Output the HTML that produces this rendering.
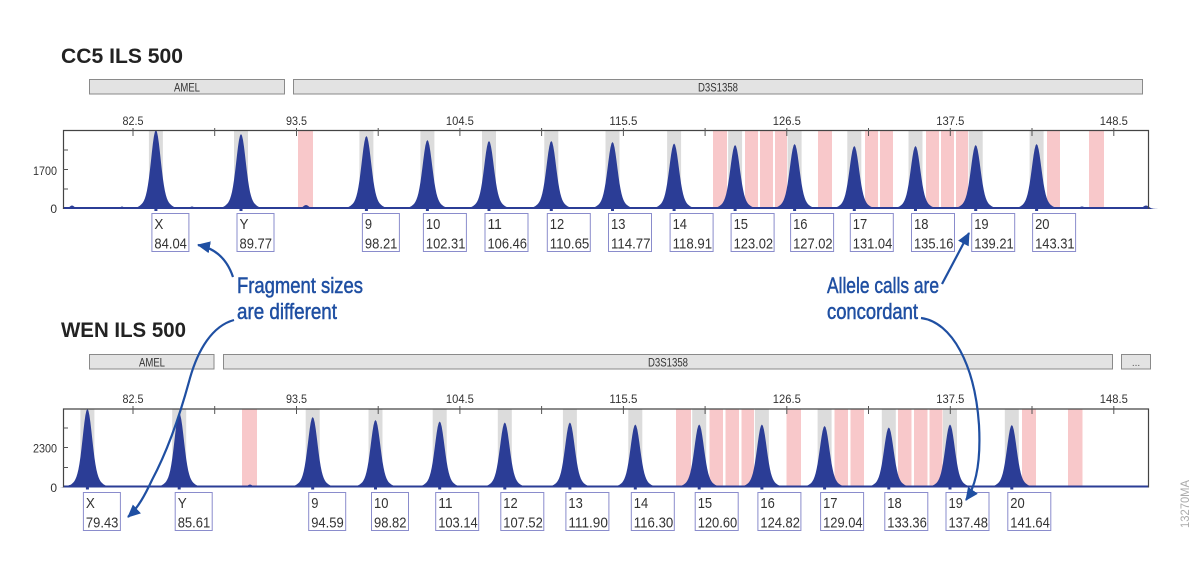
<!DOCTYPE html>
<html>
<head>
<meta charset="utf-8">
<style>
html,body{margin:0;padding:0;background:#fff;}
svg{display:block;}
text{font-family:"Liberation Sans",Arial,sans-serif;}
</style>
</head>
<body>
<svg width="1200" height="569" viewBox="0 0 1200 569" xmlns="http://www.w3.org/2000/svg" xmlns:xlink="http://www.w3.org/1999/xlink">
<defs>
<path id="pk" d="M-26,0 L-23,-0.8 L-20,-1.7 L-18,-2.7 L-16,-4.2 L-14,-6.6 L-13,-8.2 L-12,-10.5 L-11,-13.5 L-10,-17.6 L-9,-22.9 L-8,-30 L-7,-38.6 L-6,-48.9 L-5,-60.2 L-4,-72 L-3,-83 L-2,-92 L-1,-97.9 L0,-100 L1,-97.9 L2,-92 L3,-83 L4,-72 L5,-60.2 L6,-48.9 L7,-38.6 L8,-30 L9,-22.9 L10,-17.6 L11,-13.5 L12,-10.5 L13,-8.2 L14,-6.6 L16,-4.2 L18,-2.7 L20,-1.7 L23,-0.8 L26,0 Z"/>
<marker id="ah" markerWidth="14" markerHeight="12" refX="12" refY="6" orient="auto" markerUnits="userSpaceOnUse">
<path d="M0,0 L13,6 L0,12 Z" fill="#1f4fa2"/>
</marker>
</defs>

<!-- ===================== TOP PANEL ===================== -->
<text x="61" y="63" font-size="21" font-weight="bold" fill="#222" textLength="122" lengthAdjust="spacingAndGlyphs">CC5 ILS 500</text>

<rect x="89.5" y="79.5" width="195" height="14.5" fill="#e3e3e3" stroke="#8a8a8a" stroke-width="1"/>
<text x="187" y="91.5" font-size="12" fill="#333" text-anchor="middle" textLength="26" lengthAdjust="spacingAndGlyphs">AMEL</text>
<rect x="293.5" y="79.5" width="849" height="14.5" fill="#e3e3e3" stroke="#8a8a8a" stroke-width="1"/>
<text x="718" y="91.5" font-size="12" fill="#333" text-anchor="middle" textLength="40" lengthAdjust="spacingAndGlyphs">D3S1358</text>

<!-- x tick labels -->
<g font-size="12" fill="#333" text-anchor="middle">
<text x="133" y="125" textLength="21" lengthAdjust="spacingAndGlyphs">82.5</text>
<text x="296.5" y="125" textLength="21" lengthAdjust="spacingAndGlyphs">93.5</text>
<text x="459.9" y="125" textLength="28" lengthAdjust="spacingAndGlyphs">104.5</text>
<text x="623.4" y="125" textLength="28" lengthAdjust="spacingAndGlyphs">115.5</text>
<text x="786.8" y="125" textLength="28" lengthAdjust="spacingAndGlyphs">126.5</text>
<text x="950.3" y="125" textLength="28" lengthAdjust="spacingAndGlyphs">137.5</text>
<text x="1113.8" y="125" textLength="28" lengthAdjust="spacingAndGlyphs">148.5</text>
</g>

<!-- bins gray -->
<g fill="#dcdcdc">
<rect x="148.9" y="131" width="14" height="78"/>
<rect x="234" y="131" width="14" height="78"/>
<rect x="359.4" y="131" width="14" height="78"/>
<rect x="420.4" y="131" width="14" height="78"/>
<rect x="482" y="131" width="14" height="78"/>
<rect x="544.3" y="131" width="14" height="78"/>
<rect x="605.5" y="131" width="14" height="78"/>
<rect x="667.1" y="131" width="14" height="78"/>
<rect x="728.1" y="131" width="14" height="78"/>
<rect x="787.6" y="131" width="14" height="78"/>
<rect x="847.3" y="131" width="14" height="78"/>
<rect x="908.5" y="131" width="14" height="78"/>
<rect x="968.7" y="131" width="14" height="78"/>
<rect x="1029.6" y="131" width="14" height="78"/>
</g>
<!-- bins pink -->
<g fill="#f8c8ca">
<rect x="298" y="131" width="15" height="78"/>
<rect x="713" y="131" width="14" height="78"/>
<rect x="745" y="131" width="13" height="78"/>
<rect x="760" y="131" width="13" height="78"/>
<rect x="775" y="131" width="12" height="78"/>
<rect x="818" y="131" width="14" height="78"/>
<rect x="865" y="131" width="13" height="78"/>
<rect x="880" y="131" width="13" height="78"/>
<rect x="926" y="131" width="13" height="78"/>
<rect x="941" y="131" width="13" height="78"/>
<rect x="956" y="131" width="12" height="78"/>
<rect x="1047" y="131" width="13" height="78"/>
<rect x="1089" y="131" width="15" height="78"/>
</g>

<!-- baseline trace -->
<line x1="63" y1="208" x2="1149" y2="208" stroke="#2b3d96" stroke-width="2"/>
<g fill="#2b3d96">
<use href="#pk" xlink:href="#pk" transform="translate(72,209) scale(0.5,0.035)"/>
<use href="#pk" xlink:href="#pk" transform="translate(122,209) scale(0.4,0.025)"/>
<use href="#pk" xlink:href="#pk" transform="translate(192,209) scale(0.5,0.025)"/>
<use href="#pk" xlink:href="#pk" transform="translate(306,209) scale(0.6,0.04)"/>
<use href="#pk" xlink:href="#pk" transform="translate(1082,209) scale(0.6,0.025)"/>
<use href="#pk" xlink:href="#pk" transform="translate(1146,209) scale(0.6,0.035)"/>
<!-- peaks -->
<use href="#pk" xlink:href="#pk" transform="translate(155.9,209) scale(1,0.79)"/>
<use href="#pk" xlink:href="#pk" transform="translate(241,209) scale(1,0.75)"/>
<use href="#pk" xlink:href="#pk" transform="translate(366.4,209) scale(1,0.73)"/>
<use href="#pk" xlink:href="#pk" transform="translate(427.4,209) scale(1,0.69)"/>
<use href="#pk" xlink:href="#pk" transform="translate(489,209) scale(1,0.68)"/>
<use href="#pk" xlink:href="#pk" transform="translate(551.3,209) scale(1,0.68)"/>
<use href="#pk" xlink:href="#pk" transform="translate(612.5,209) scale(1,0.67)"/>
<use href="#pk" xlink:href="#pk" transform="translate(674.1,209) scale(1,0.655)"/>
<use href="#pk" xlink:href="#pk" transform="translate(735.1,209) scale(1,0.64)"/>
<use href="#pk" xlink:href="#pk" transform="translate(794.6,209) scale(1,0.65)"/>
<use href="#pk" xlink:href="#pk" transform="translate(854.3,209) scale(1,0.63)"/>
<use href="#pk" xlink:href="#pk" transform="translate(915.5,209) scale(1,0.63)"/>
<use href="#pk" xlink:href="#pk" transform="translate(975.7,209) scale(1,0.64)"/>
<use href="#pk" xlink:href="#pk" transform="translate(1036.6,209) scale(1,0.65)"/>
</g>

<!-- plot frame -->
<path d="M63.5,209 L63.5,130.5 L1148.5,130.5 L1148.5,209" fill="none" stroke="#444" stroke-width="1.2"/>
<g stroke="#555" stroke-width="1">
<line x1="133" y1="128" x2="133" y2="136"/>
<line x1="214.7" y1="128" x2="214.7" y2="136"/>
<line x1="296.5" y1="128" x2="296.5" y2="136"/>
<line x1="378.2" y1="128" x2="378.2" y2="136"/>
<line x1="459.9" y1="128" x2="459.9" y2="136"/>
<line x1="541.6" y1="128" x2="541.6" y2="136"/>
<line x1="623.4" y1="128" x2="623.4" y2="136"/>
<line x1="705.1" y1="128" x2="705.1" y2="136"/>
<line x1="786.8" y1="128" x2="786.8" y2="136"/>
<line x1="868.5" y1="128" x2="868.5" y2="136"/>
<line x1="950.3" y1="128" x2="950.3" y2="136"/>
<line x1="1032" y1="128" x2="1032" y2="136"/>
<line x1="1113.8" y1="128" x2="1113.8" y2="136"/>
<line x1="63" y1="189" x2="68" y2="189"/>
<line x1="63" y1="169.5" x2="68" y2="169.5"/>
<line x1="63" y1="150" x2="68" y2="150"/>
</g>
<g font-size="12" fill="#333" text-anchor="end">
<text x="57" y="175" textLength="24" lengthAdjust="spacingAndGlyphs">1700</text>
<text x="57" y="213">0</text>
</g>

<!-- labels top -->
<g fill="none" stroke="#8a8ccc" stroke-width="1">
<rect x="151.9" y="213.5" width="37" height="38"/>
<rect x="237" y="213.5" width="37" height="38"/>
<rect x="362.4" y="213.5" width="37" height="38"/>
<rect x="423.4" y="213.5" width="43" height="38"/>
<rect x="485" y="213.5" width="43" height="38"/>
<rect x="547.3" y="213.5" width="43" height="38"/>
<rect x="608.5" y="213.5" width="43" height="38"/>
<rect x="670.1" y="213.5" width="43" height="38"/>
<rect x="731.1" y="213.5" width="43" height="38"/>
<rect x="790.6" y="213.5" width="43" height="38"/>
<rect x="850.3" y="213.5" width="43" height="38"/>
<rect x="911.5" y="213.5" width="43" height="38"/>
<rect x="971.7" y="213.5" width="43" height="38"/>
<rect x="1032.6" y="213.5" width="43" height="38"/>
</g>
<g fill="#2b3d96">
<rect x="154.4" y="208" width="3" height="3"/>
<rect x="239.5" y="208" width="3" height="3"/>
<rect x="364.9" y="208" width="3" height="3"/>
<rect x="425.9" y="208" width="3" height="3"/>
<rect x="487.5" y="208" width="3" height="3"/>
<rect x="549.8" y="208" width="3" height="3"/>
<rect x="611" y="208" width="3" height="3"/>
<rect x="672.6" y="208" width="3" height="3"/>
<rect x="733.6" y="208" width="3" height="3"/>
<rect x="793.1" y="208" width="3" height="3"/>
<rect x="852.8" y="208" width="3" height="3"/>
<rect x="914" y="208" width="3" height="3"/>
<rect x="974.2" y="208" width="3" height="3"/>
<rect x="1035.1" y="208" width="3" height="3"/>
</g>
<g font-size="15" fill="#333">
<text x="154.4" y="229" textLength="9" lengthAdjust="spacingAndGlyphs">X</text>
<text x="154.4" y="248.5" textLength="32.5" lengthAdjust="spacingAndGlyphs">84.04</text>
<text x="239.5" y="229" textLength="9" lengthAdjust="spacingAndGlyphs">Y</text>
<text x="239.5" y="248.5" textLength="32.5" lengthAdjust="spacingAndGlyphs">89.77</text>
<text x="364.9" y="229" textLength="7.2" lengthAdjust="spacingAndGlyphs">9</text>
<text x="364.9" y="248.5" textLength="32.5" lengthAdjust="spacingAndGlyphs">98.21</text>
<text x="425.9" y="229" textLength="14.4" lengthAdjust="spacingAndGlyphs">10</text>
<text x="425.9" y="248.5" textLength="39.5" lengthAdjust="spacingAndGlyphs">102.31</text>
<text x="487.5" y="229" textLength="14.4" lengthAdjust="spacingAndGlyphs">11</text>
<text x="487.5" y="248.5" textLength="39.5" lengthAdjust="spacingAndGlyphs">106.46</text>
<text x="549.8" y="229" textLength="14.4" lengthAdjust="spacingAndGlyphs">12</text>
<text x="549.8" y="248.5" textLength="39.5" lengthAdjust="spacingAndGlyphs">110.65</text>
<text x="611" y="229" textLength="14.4" lengthAdjust="spacingAndGlyphs">13</text>
<text x="611" y="248.5" textLength="39.5" lengthAdjust="spacingAndGlyphs">114.77</text>
<text x="672.6" y="229" textLength="14.4" lengthAdjust="spacingAndGlyphs">14</text>
<text x="672.6" y="248.5" textLength="39.5" lengthAdjust="spacingAndGlyphs">118.91</text>
<text x="733.6" y="229" textLength="14.4" lengthAdjust="spacingAndGlyphs">15</text>
<text x="733.6" y="248.5" textLength="39.5" lengthAdjust="spacingAndGlyphs">123.02</text>
<text x="793.1" y="229" textLength="14.4" lengthAdjust="spacingAndGlyphs">16</text>
<text x="793.1" y="248.5" textLength="39.5" lengthAdjust="spacingAndGlyphs">127.02</text>
<text x="852.8" y="229" textLength="14.4" lengthAdjust="spacingAndGlyphs">17</text>
<text x="852.8" y="248.5" textLength="39.5" lengthAdjust="spacingAndGlyphs">131.04</text>
<text x="914" y="229" textLength="14.4" lengthAdjust="spacingAndGlyphs">18</text>
<text x="914" y="248.5" textLength="39.5" lengthAdjust="spacingAndGlyphs">135.16</text>
<text x="974.2" y="229" textLength="14.4" lengthAdjust="spacingAndGlyphs">19</text>
<text x="974.2" y="248.5" textLength="39.5" lengthAdjust="spacingAndGlyphs">139.21</text>
<text x="1035.1" y="229" textLength="14.4" lengthAdjust="spacingAndGlyphs">20</text>
<text x="1035.1" y="248.5" textLength="39.5" lengthAdjust="spacingAndGlyphs">143.31</text>
</g>

<!-- ===================== BOTTOM PANEL ===================== -->
<text x="61" y="337" font-size="21" font-weight="bold" fill="#222" textLength="125" lengthAdjust="spacingAndGlyphs">WEN ILS 500</text>

<rect x="89.5" y="354.5" width="124.5" height="14.5" fill="#e3e3e3" stroke="#8a8a8a" stroke-width="1"/>
<text x="152" y="366.5" font-size="12" fill="#333" text-anchor="middle" textLength="26" lengthAdjust="spacingAndGlyphs">AMEL</text>
<rect x="223.5" y="354.5" width="889" height="14.5" fill="#e3e3e3" stroke="#8a8a8a" stroke-width="1"/>
<text x="668" y="366.5" font-size="12" fill="#333" text-anchor="middle" textLength="40" lengthAdjust="spacingAndGlyphs">D3S1358</text>
<rect x="1121.5" y="354.5" width="29" height="14.5" fill="#e3e3e3" stroke="#8a8a8a" stroke-width="1"/>
<text x="1136" y="366" font-size="10" fill="#555" text-anchor="middle">...</text>

<g font-size="12" fill="#333" text-anchor="middle">
<text x="133" y="403" textLength="21" lengthAdjust="spacingAndGlyphs">82.5</text>
<text x="296.5" y="403" textLength="21" lengthAdjust="spacingAndGlyphs">93.5</text>
<text x="459.9" y="403" textLength="28" lengthAdjust="spacingAndGlyphs">104.5</text>
<text x="623.4" y="403" textLength="28" lengthAdjust="spacingAndGlyphs">115.5</text>
<text x="786.8" y="403" textLength="28" lengthAdjust="spacingAndGlyphs">126.5</text>
<text x="950.3" y="403" textLength="28" lengthAdjust="spacingAndGlyphs">137.5</text>
<text x="1113.8" y="403" textLength="28" lengthAdjust="spacingAndGlyphs">148.5</text>
</g>

<g fill="#dcdcdc">
<rect x="80.4" y="409" width="14" height="78.5"/>
<rect x="172.2" y="409" width="14" height="78.5"/>
<rect x="305.7" y="409" width="14" height="78.5"/>
<rect x="368.5" y="409" width="14" height="78.5"/>
<rect x="432.7" y="409" width="14" height="78.5"/>
<rect x="497.8" y="409" width="14" height="78.5"/>
<rect x="562.9" y="409" width="14" height="78.5"/>
<rect x="628.3" y="409" width="14" height="78.5"/>
<rect x="692.2" y="409" width="14" height="78.5"/>
<rect x="754.9" y="409" width="14" height="78.5"/>
<rect x="817.6" y="409" width="14" height="78.5"/>
<rect x="881.8" y="409" width="14" height="78.5"/>
<rect x="943" y="409" width="14" height="78.5"/>
<rect x="1004.8" y="409" width="14" height="78.5"/>
</g>
<g fill="#f8c8ca">
<rect x="242" y="409" width="15" height="78.5"/>
<rect x="676" y="409" width="15" height="78.5"/>
<rect x="709.5" y="409" width="13.5" height="78.5"/>
<rect x="725.5" y="409" width="13.5" height="78.5"/>
<rect x="741.5" y="409" width="12.5" height="78.5"/>
<rect x="786.5" y="409" width="14.5" height="78.5"/>
<rect x="834.5" y="409" width="13.5" height="78.5"/>
<rect x="850.5" y="409" width="13.5" height="78.5"/>
<rect x="898" y="409" width="13.5" height="78.5"/>
<rect x="914" y="409" width="13.5" height="78.5"/>
<rect x="929.5" y="409" width="13" height="78.5"/>
<rect x="1022" y="409" width="14" height="78.5"/>
<rect x="1068" y="409" width="14.5" height="78.5"/>
</g>

<line x1="63" y1="486.5" x2="1149" y2="486.5" stroke="#2b3d96" stroke-width="2"/>
<g fill="#2b3d96">
<use href="#pk" xlink:href="#pk" transform="translate(70,487.5) scale(0.5,0.025)"/>
<use href="#pk" xlink:href="#pk" transform="translate(225,487.5) scale(0.4,0.02)"/>
<use href="#pk" xlink:href="#pk" transform="translate(250,487.5) scale(0.5,0.03)"/>
<use href="#pk" xlink:href="#pk" transform="translate(1110,487.5) scale(0.6,0.02)"/>
<use href="#pk" xlink:href="#pk" transform="translate(87.4,487.5) scale(1,0.785)"/>
<use href="#pk" xlink:href="#pk" transform="translate(179.2,487.5) scale(1,0.745)"/>
<use href="#pk" xlink:href="#pk" transform="translate(312.7,487.5) scale(1,0.705)"/>
<use href="#pk" xlink:href="#pk" transform="translate(375.5,487.5) scale(1,0.675)"/>
<use href="#pk" xlink:href="#pk" transform="translate(439.7,487.5) scale(1,0.66)"/>
<use href="#pk" xlink:href="#pk" transform="translate(504.8,487.5) scale(1,0.65)"/>
<use href="#pk" xlink:href="#pk" transform="translate(569.9,487.5) scale(1,0.65)"/>
<use href="#pk" xlink:href="#pk" transform="translate(635.3,487.5) scale(1,0.63)"/>
<use href="#pk" xlink:href="#pk" transform="translate(699.2,487.5) scale(1,0.63)"/>
<use href="#pk" xlink:href="#pk" transform="translate(761.9,487.5) scale(1,0.63)"/>
<use href="#pk" xlink:href="#pk" transform="translate(824.6,487.5) scale(1,0.615)"/>
<use href="#pk" xlink:href="#pk" transform="translate(888.8,487.5) scale(1,0.60)"/>
<use href="#pk" xlink:href="#pk" transform="translate(950,487.5) scale(1,0.63)"/>
<use href="#pk" xlink:href="#pk" transform="translate(1011.8,487.5) scale(1,0.625)"/>
</g>

<path d="M63.5,487.5 L63.5,409 L1148.5,409 L1148.5,487.5" fill="none" stroke="#444" stroke-width="1.2"/>
<g stroke="#555" stroke-width="1">
<line x1="133" y1="406" x2="133" y2="414"/>
<line x1="214.7" y1="406" x2="214.7" y2="414"/>
<line x1="296.5" y1="406" x2="296.5" y2="414"/>
<line x1="378.2" y1="406" x2="378.2" y2="414"/>
<line x1="459.9" y1="406" x2="459.9" y2="414"/>
<line x1="541.6" y1="406" x2="541.6" y2="414"/>
<line x1="623.4" y1="406" x2="623.4" y2="414"/>
<line x1="705.1" y1="406" x2="705.1" y2="414"/>
<line x1="786.8" y1="406" x2="786.8" y2="414"/>
<line x1="868.5" y1="406" x2="868.5" y2="414"/>
<line x1="950.3" y1="406" x2="950.3" y2="414"/>
<line x1="1032" y1="406" x2="1032" y2="414"/>
<line x1="1113.8" y1="406" x2="1113.8" y2="414"/>
<line x1="63" y1="467.5" x2="68" y2="467.5"/>
<line x1="63" y1="447.5" x2="68" y2="447.5"/>
<line x1="63" y1="428" x2="68" y2="428"/>
</g>
<g font-size="12" fill="#333" text-anchor="end">
<text x="57" y="452.5" textLength="24" lengthAdjust="spacingAndGlyphs">2300</text>
<text x="57" y="492">0</text>
</g>

<g fill="none" stroke="#8a8ccc" stroke-width="1">
<rect x="83.4" y="492.5" width="37" height="38"/>
<rect x="175.2" y="492.5" width="37" height="38"/>
<rect x="308.7" y="492.5" width="37" height="38"/>
<rect x="371.5" y="492.5" width="37" height="38"/>
<rect x="435.7" y="492.5" width="43" height="38"/>
<rect x="500.8" y="492.5" width="43" height="38"/>
<rect x="565.9" y="492.5" width="43" height="38"/>
<rect x="631.3" y="492.5" width="43" height="38"/>
<rect x="695.2" y="492.5" width="43" height="38"/>
<rect x="757.9" y="492.5" width="43" height="38"/>
<rect x="820.6" y="492.5" width="43" height="38"/>
<rect x="884.8" y="492.5" width="43" height="38"/>
<rect x="946" y="492.5" width="43" height="38"/>
<rect x="1007.8" y="492.5" width="43" height="38"/>
</g>
<g fill="#2b3d96">
<rect x="85.9" y="486.5" width="3" height="3"/>
<rect x="177.7" y="486.5" width="3" height="3"/>
<rect x="311.2" y="486.5" width="3" height="3"/>
<rect x="374" y="486.5" width="3" height="3"/>
<rect x="438.2" y="486.5" width="3" height="3"/>
<rect x="503.3" y="486.5" width="3" height="3"/>
<rect x="568.4" y="486.5" width="3" height="3"/>
<rect x="633.8" y="486.5" width="3" height="3"/>
<rect x="697.7" y="486.5" width="3" height="3"/>
<rect x="760.4" y="486.5" width="3" height="3"/>
<rect x="823.1" y="486.5" width="3" height="3"/>
<rect x="887.3" y="486.5" width="3" height="3"/>
<rect x="948.5" y="486.5" width="3" height="3"/>
<rect x="1010.3" y="486.5" width="3" height="3"/>
</g>
<g font-size="15" fill="#333">
<text x="85.9" y="508" textLength="9" lengthAdjust="spacingAndGlyphs">X</text>
<text x="85.9" y="527.5" textLength="32.5" lengthAdjust="spacingAndGlyphs">79.43</text>
<text x="177.7" y="508" textLength="9" lengthAdjust="spacingAndGlyphs">Y</text>
<text x="177.7" y="527.5" textLength="32.5" lengthAdjust="spacingAndGlyphs">85.61</text>
<text x="311.2" y="508" textLength="7.2" lengthAdjust="spacingAndGlyphs">9</text>
<text x="311.2" y="527.5" textLength="32.5" lengthAdjust="spacingAndGlyphs">94.59</text>
<text x="374" y="508" textLength="14.4" lengthAdjust="spacingAndGlyphs">10</text>
<text x="374" y="527.5" textLength="32.5" lengthAdjust="spacingAndGlyphs">98.82</text>
<text x="438.2" y="508" textLength="14.4" lengthAdjust="spacingAndGlyphs">11</text>
<text x="438.2" y="527.5" textLength="39.5" lengthAdjust="spacingAndGlyphs">103.14</text>
<text x="503.3" y="508" textLength="14.4" lengthAdjust="spacingAndGlyphs">12</text>
<text x="503.3" y="527.5" textLength="39.5" lengthAdjust="spacingAndGlyphs">107.52</text>
<text x="568.4" y="508" textLength="14.4" lengthAdjust="spacingAndGlyphs">13</text>
<text x="568.4" y="527.5" textLength="39.5" lengthAdjust="spacingAndGlyphs">111.90</text>
<text x="633.8" y="508" textLength="14.4" lengthAdjust="spacingAndGlyphs">14</text>
<text x="633.8" y="527.5" textLength="39.5" lengthAdjust="spacingAndGlyphs">116.30</text>
<text x="697.7" y="508" textLength="14.4" lengthAdjust="spacingAndGlyphs">15</text>
<text x="697.7" y="527.5" textLength="39.5" lengthAdjust="spacingAndGlyphs">120.60</text>
<text x="760.4" y="508" textLength="14.4" lengthAdjust="spacingAndGlyphs">16</text>
<text x="760.4" y="527.5" textLength="39.5" lengthAdjust="spacingAndGlyphs">124.82</text>
<text x="823.1" y="508" textLength="14.4" lengthAdjust="spacingAndGlyphs">17</text>
<text x="823.1" y="527.5" textLength="39.5" lengthAdjust="spacingAndGlyphs">129.04</text>
<text x="887.3" y="508" textLength="14.4" lengthAdjust="spacingAndGlyphs">18</text>
<text x="887.3" y="527.5" textLength="39.5" lengthAdjust="spacingAndGlyphs">133.36</text>
<text x="948.5" y="508" textLength="14.4" lengthAdjust="spacingAndGlyphs">19</text>
<text x="948.5" y="527.5" textLength="39.5" lengthAdjust="spacingAndGlyphs">137.48</text>
<text x="1010.3" y="508" textLength="14.4" lengthAdjust="spacingAndGlyphs">20</text>
<text x="1010.3" y="527.5" textLength="39.5" lengthAdjust="spacingAndGlyphs">141.64</text>
</g>

<!-- ===================== ANNOTATIONS ===================== -->
<g font-size="22" fill="#1f4fa2" stroke="#1f4fa2" stroke-width="0.5" font-family="'Liberation Sans Narrow','DejaVu Sans Condensed','Liberation Sans',sans-serif">
<text x="237" y="293" textLength="126" lengthAdjust="spacingAndGlyphs">Fragment sizes</text>
<text x="237" y="319" textLength="100" lengthAdjust="spacingAndGlyphs">are different</text>
<text x="827" y="293" textLength="112" lengthAdjust="spacingAndGlyphs">Allele calls are</text>
<text x="827" y="319" textLength="91" lengthAdjust="spacingAndGlyphs">concordant</text>
</g>
<g fill="none" stroke="#1f4fa2" stroke-width="2.2" marker-end="url(#ah)">
<path d="M233,277 Q224,250 198,245"/>
<path d="M234,320 C212,326 198,350 190,378 C180,415 168,450 152,480 C145,495 138,508 128,517"/>
<path d="M942,284 L969,233"/>
<path d="M921,318 C952,322 975,365 979,425 C981,462 976,486 966,500"/>
</g>

<text x="1189" y="504" font-size="12" fill="#aaa" text-anchor="middle" transform="rotate(-90 1189 504)" textLength="48" lengthAdjust="spacingAndGlyphs">13270MA</text>
</svg>
</body>
</html>
